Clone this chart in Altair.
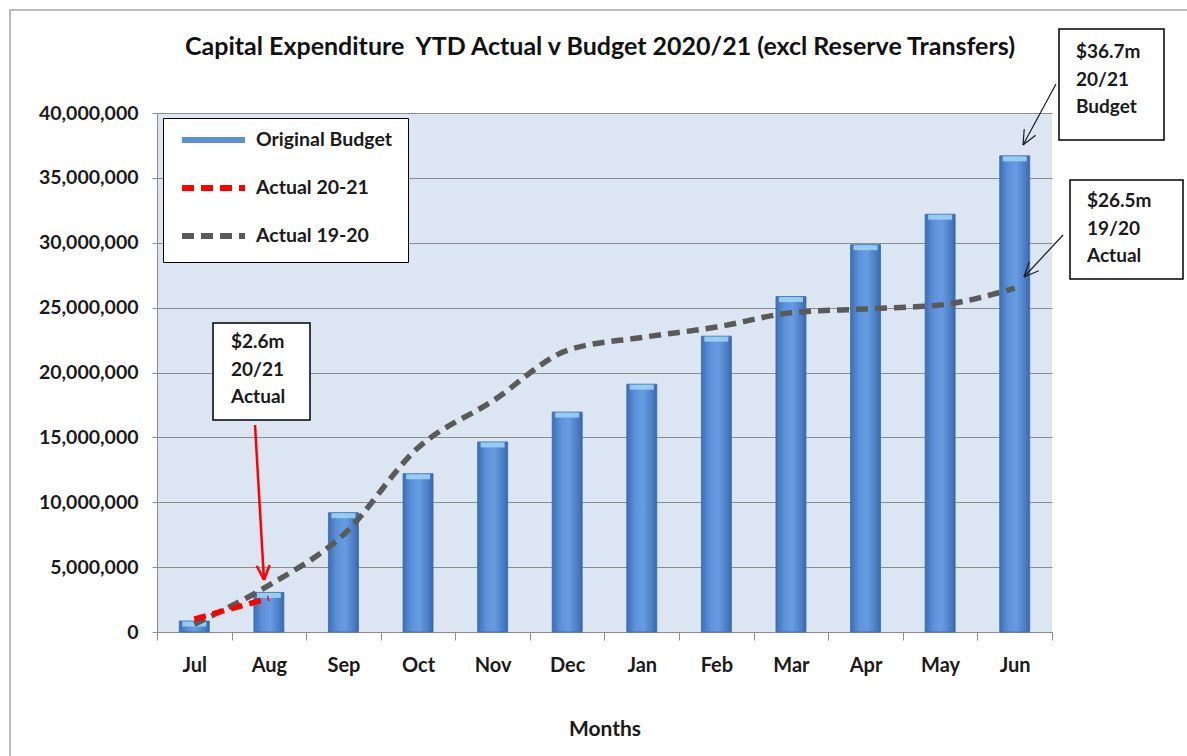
import math
import altair as alt
import pandas as pd

# ---------------- data ----------------
months = ["Jul", "Aug", "Sep", "Oct", "Nov", "Dec", "Jan", "Feb", "Mar", "Apr", "May", "Jun"]
original_budget = [850000, 3050000, 9200000, 12200000, 14650000, 16950000,
                   19100000, 22800000, 25850000, 29850000, 32200000, 36700000]
actual_1920 = [600000, 3600000, 7500000, 14200000, 17800000, 21700000,
               22700000, 23500000, 24600000, 24900000, 25200000, 26500000]
actual_2021_months = ["Jul", "Aug"]
actual_2021 = [1000000, 2600000]
series_names = ["Original Budget", "Actual 20-21", "Actual 19-20"]
y_ticks = [0, 5000000, 10000000, 15000000, 20000000, 25000000, 30000000, 35000000, 40000000]

title_text = "Capital Expenditure\u00a0 YTD Actual v Budget 2020/21 (excl Reserve Transfers)"
note_2021 = ["$2.6m", "20/21", "Actual"]
note_budget = ["$36.7m", "20/21", "Budget"]
note_1920 = ["$26.5m", "19/20", "Actual"]

# ---------------- styles ----------------
W, H = 895, 519
FONT = "Lato"
series_colors = ["#5b8fd6", "#ff0000", "#5a5a5a"]
series_dash = [[1, 0], [12, 7], [12, 7]]
GRID = "#8c8c8c"

budget_df = pd.DataFrame({"month": months, "value": original_budget})
line_df = pd.DataFrame({
    "month": months + actual_2021_months,
    "value": actual_1920 + actual_2021,
    "series": ["Actual 19-20"] * len(actual_1920) + ["Actual 20-21"] * len(actual_2021),
})
one = pd.DataFrame({"k": [0]})

x_enc = alt.X("month:N", sort=months,
              scale=alt.Scale(paddingInner=0, paddingOuter=0),
              axis=alt.Axis(title="Months", tickBand="extent", labelAngle=0,
                            labelFont=FONT, labelFontSize=20, labelFontWeight="bold",
                            labelColor="#1a1a1a", labelPadding=15,
                            titleFont=FONT, titleFontSize=21, titleFontWeight="bold",
                            titleColor="#1a1a1a", titlePadding=43,
                            domainColor=GRID, tickColor=GRID, tickSize=8, grid=False))
y_enc = alt.Y("value:Q",
              scale=alt.Scale(domain=[0, 40000000], nice=False),
              axis=alt.Axis(values=y_ticks, format=",.0f", title=None,
                            labelFont=FONT, labelFontSize=19.5, labelFontWeight="bold",
                            labelColor="#1a1a1a", labelPadding=14,
                            domainColor=GRID, tickColor=GRID, tickSize=5,
                            grid=True, gridColor=GRID, gridWidth=1.2))

bar_fill = alt.LinearGradient(
    gradient="linear", x1=0, x2=1, y1=0, y2=0,
    stops=[alt.GradientStop(color="#3f6fb3", offset=0),
           alt.GradientStop(color="#5e93dc", offset=0.3),
           alt.GradientStop(color="#679ce2", offset=0.55),
           alt.GradientStop(color="#4a7dc4", offset=0.85),
           alt.GradientStop(color="#3a68aa", offset=1)])

bars = alt.Chart(budget_df).mark_bar(size=30, fill=bar_fill, stroke="#3d6aa8",
                                     strokeWidth=0.8).encode(x=x_enc, y=y_enc)
bevel = alt.Chart(budget_df).mark_tick(size=24, thickness=5, yOffset=3,
                                       color="#9ad3f5", opacity=0.9).encode(x=x_enc, y=y_enc)

legend = alt.Legend(title=None, orient="none", legendX=6, legendY=5,
                    symbolType="stroke", symbolSize=3969, symbolStrokeWidth=6,
                    clipHeight=12, rowPadding=28,
                    labelFont=FONT, labelFontSize=19.5, labelFontWeight="bold",
                    labelColor="#1a1a1a", labelOffset=8,
                    fillColor="white", strokeColor="black", padding=16)

lines = alt.Chart(line_df).mark_line(strokeWidth=5.5, interpolate="monotone").encode(
    x=x_enc, y=y_enc,
    color=alt.Color("series:N", scale=alt.Scale(domain=series_names, range=series_colors),
                    legend=legend),
    strokeDash=alt.StrokeDash("series:N", scale=alt.Scale(domain=series_names, range=series_dash),
                              legend=legend),
)


def rule(x1, y1, x2, y2, color, width):
    return alt.Chart(one).mark_rule(color=color, strokeWidth=width).encode(
        x=alt.value(x1), y=alt.value(y1), x2=alt.value(x2), y2=alt.value(y2))


def arrow(x1, y1, x2, y2, color, width, head=16, ang=24):
    dx, dy = x2 - x1, y2 - y1
    L = math.hypot(dx, dy)
    ux, uy = -dx / L, -dy / L
    out = [rule(x1, y1, x2, y2, color, width)]
    for s in (1, -1):
        a = math.radians(ang * s)
        wx = ux * math.cos(a) - uy * math.sin(a)
        wy = ux * math.sin(a) + uy * math.cos(a)
        out.append(rule(x2, y2, x2 + head * wx, y2 + head * wy, color, width))
    return out


def note(x1, y1, x2, y2, tx, ty, lines_text):
    box = alt.Chart(one).mark_rect(fill="white", stroke="black", strokeWidth=1.5).encode(
        x=alt.value(x1), y=alt.value(y1), x2=alt.value(x2), y2=alt.value(y2))
    txt = alt.Chart(one).mark_text(align="left", baseline="top", font=FONT, fontSize=19,
                                   fontWeight="bold", color="#1a1a1a", lineHeight=27.5).encode(
        x=alt.value(tx), y=alt.value(ty), text=alt.value(lines_text))
    return [box, txt]


border = alt.Chart(one).mark_rect(fill="transparent", stroke="#a6a6a6", strokeWidth=1.5).encode(
    x=alt.value(-147), y=alt.value(-103), x2=alt.value(1060), y2=alt.value(680))

title = alt.Chart(one).mark_text(align="center", baseline="middle", font=FONT, fontSize=25,
                                 fontWeight="bold", color="#111111").encode(
    x=alt.value(443), y=alt.value(-66), text=alt.value(title_text))

layers = [border, title, bars, bevel, lines]
layers += note(56, 210, 153, 307, 74, 220, note_2021)
layers += arrow(98, 312, 107, 467, "#ff0000", 2.5)
layers += note(902, -84, 1007, 27, 919, -70, note_budget)
layers += arrow(899, -29, 866, 32, "#1a1a1a", 1.2)
layers += note(913, 67, 1026, 166, 930, 79, note_1920)
layers += arrow(906, 122, 867, 164, "#1a1a1a", 1.2)

chart = alt.layer(*layers).properties(
    width=W, height=H,
    padding={"left": 157, "top": 113, "right": 135, "bottom": 124},
    autosize=alt.AutoSizeParams(type="none"),
    background="white",
).configure_view(fill="#dce6f2", strokeWidth=0)

chart.save("out.html", embed_options={"renderer": "svg", "actions": False})
